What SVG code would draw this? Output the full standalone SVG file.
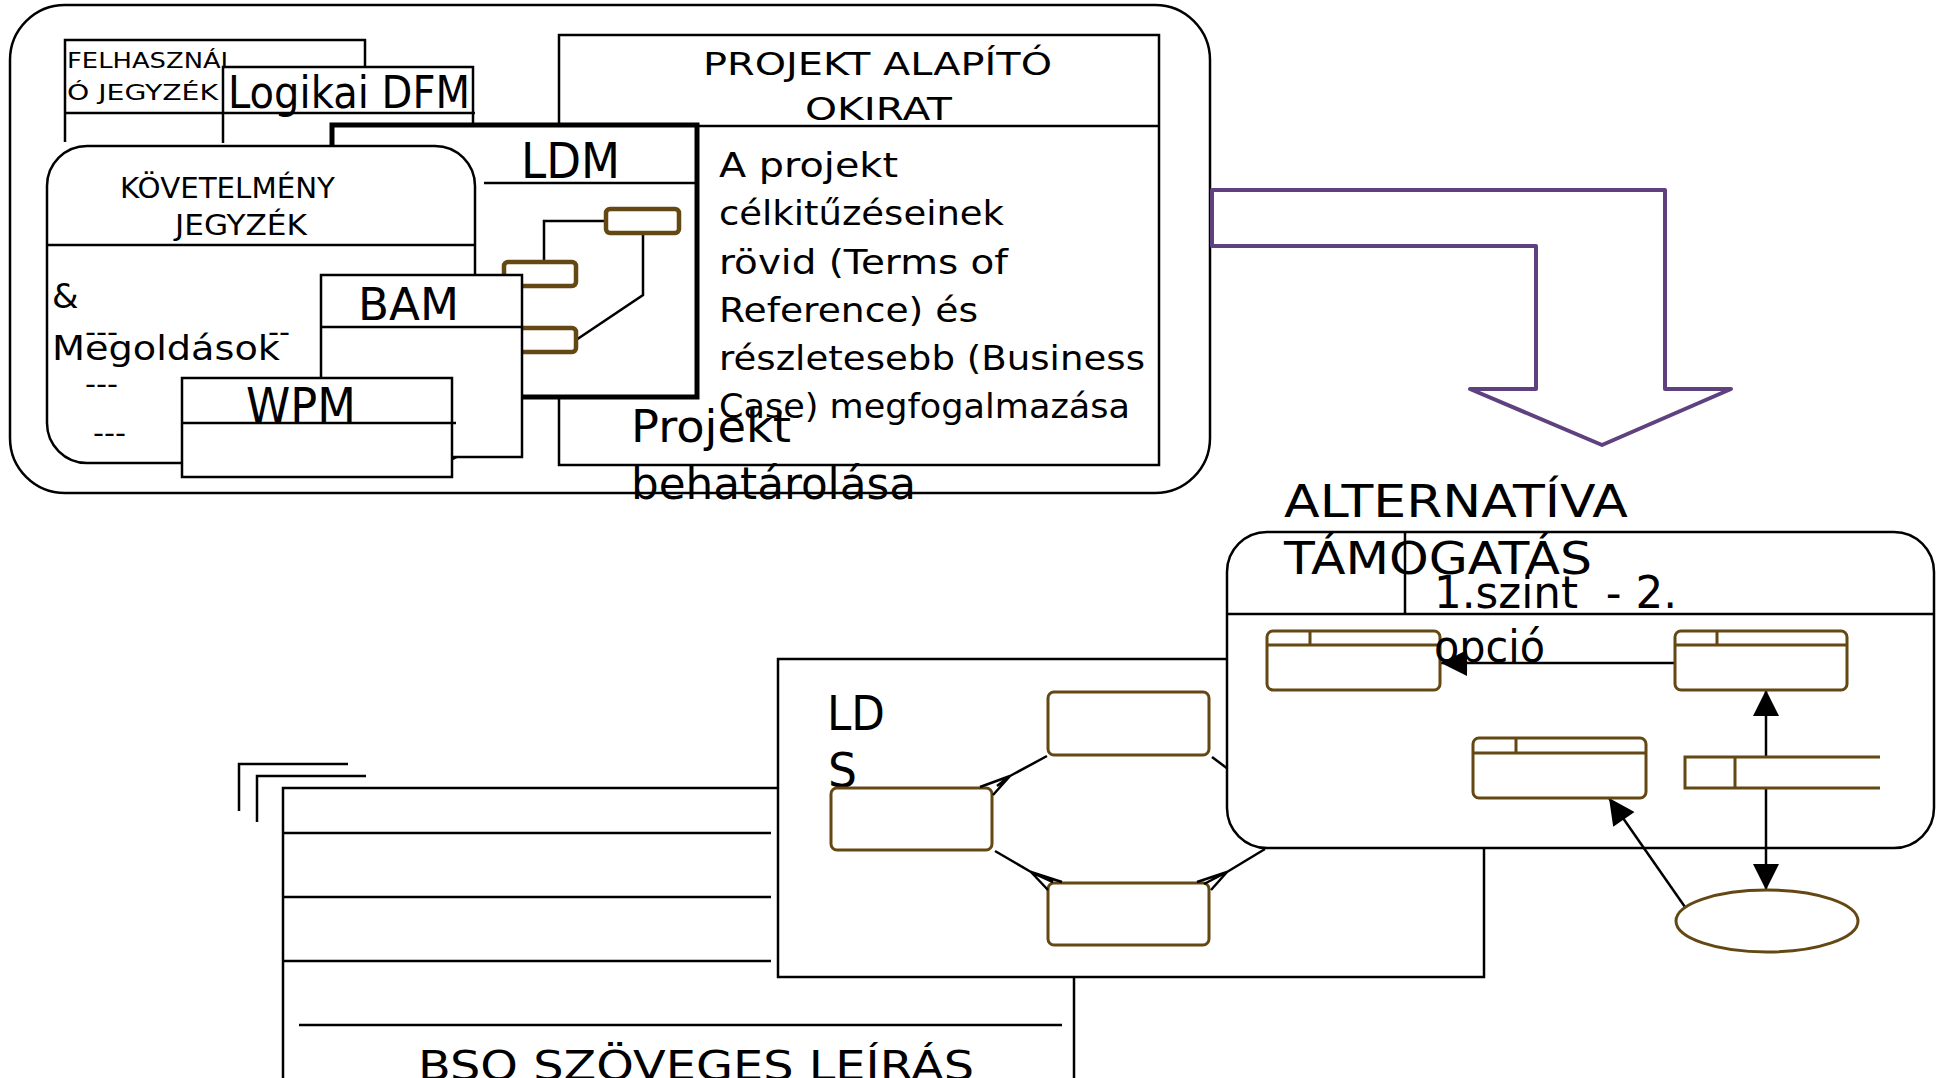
<svg xmlns="http://www.w3.org/2000/svg" width="1941" height="1078" viewBox="0 0 1941 1078">
<defs>
<style>
.ln{fill:none;stroke:#000;stroke-width:2.5}
.bx{fill:#fff;stroke:#000;stroke-width:2.5}
.thick{fill:#fff;stroke:#000;stroke-width:5}
.ent{fill:#fff;stroke:#634813;stroke-width:3}
.ent4{fill:#fff;stroke:#634813;stroke-width:4.5}
.entl{fill:none;stroke:#634813;stroke-width:3}
.t{font-family:"DejaVu Sans","Liberation Sans",sans-serif;fill:#000}
.arrowbig{fill:none;stroke:#5f4180;stroke-width:4;stroke-linejoin:round}
</style>
<marker id="ah" viewBox="0 0 10 10" refX="10" refY="5" markerWidth="30" markerHeight="26" markerUnits="userSpaceOnUse" orient="auto-start-reverse"><path d="M0,0 L10,5 L0,10 z" fill="#000"/></marker>
</defs>
<rect width="1941" height="1078" fill="#fff"/>

<g id="outer">
<rect x="10" y="5" width="1200" height="488" rx="55" class="bx"/>
</g>

<g id="felhasznalo">
<path class="ln" d="M65,142 V40 H365 V67 M65,113 H223"/>
</g>
<g id="logikai-dfm">
<path class="ln" d="M223,143 V67 H473 V123 M223,113 H475"/>
<text class="t" x="228" y="108" font-size="45" textLength="242" lengthAdjust="spacingAndGlyphs">Logikai DFM</text>
</g>
<g id="felhasznalo-text">
<text class="t" x="67" y="68" font-size="22" textLength="168" lengthAdjust="spacingAndGlyphs">FELHASZNÁL</text>
<text class="t" x="67" y="100" font-size="22" textLength="151" lengthAdjust="spacingAndGlyphs">Ó JEGYZÉK</text>
</g>

<g id="projekt-alapito">
<rect x="559" y="35" width="600" height="430" class="bx"/>
<path class="ln" d="M559,126 H1159"/>
<text class="t" x="703" y="75" font-size="32" textLength="349" lengthAdjust="spacingAndGlyphs">PROJEKT ALAPÍTÓ</text>
<text class="t" x="805" y="120" font-size="32" textLength="147" lengthAdjust="spacingAndGlyphs">OKIRAT</text>
<text class="t" x="719" y="177" font-size="34" textLength="179" lengthAdjust="spacingAndGlyphs">A projekt</text>
<text class="t" x="719" y="225" font-size="34" textLength="285" lengthAdjust="spacingAndGlyphs">célkitűzéseinek</text>
<text class="t" x="719" y="274" font-size="34" textLength="289" lengthAdjust="spacingAndGlyphs">rövid (Terms of</text>
<text class="t" x="719" y="322" font-size="34" textLength="259" lengthAdjust="spacingAndGlyphs">Reference) és</text>
<text class="t" x="719" y="370" font-size="34" textLength="426" lengthAdjust="spacingAndGlyphs">részletesebb (Business</text>
<text class="t" x="719" y="418" font-size="34" textLength="411" lengthAdjust="spacingAndGlyphs">Case) megfogalmazása</text>
</g>

<g id="ldm">
<rect x="332" y="125" width="365" height="272" class="thick"/>
<path class="ln" d="M484,183 H697"/>
<text class="t" x="521" y="178" font-size="50" textLength="99" lengthAdjust="spacingAndGlyphs">LDM</text>
<path class="ln" d="M606,221 H544 V262 M643,233 V295 L576,340"/>
<rect x="606" y="209" width="73" height="24" rx="4" class="ent4"/>
<rect x="504" y="262" width="72" height="24" rx="4" class="ent4"/>
<rect x="504" y="328" width="72" height="24" rx="4" class="ent4"/>
</g>

<g id="kovetelmeny">
<rect x="47" y="146" width="428" height="317" rx="40" class="bx"/>
<path class="ln" d="M47,245 H475"/>
<text class="t" x="120" y="198" font-size="29" textLength="215" lengthAdjust="spacingAndGlyphs">KÖVETELMÉNY</text>
<text class="t" x="175" y="235" font-size="29" textLength="132" lengthAdjust="spacingAndGlyphs">JEGYZÉK</text>
<text class="t" x="52" y="308" font-size="34">&amp;</text>
<text class="t" x="85" y="342" font-size="28" textLength="33" lengthAdjust="spacingAndGlyphs">---</text>
<text class="t" x="268" y="342" font-size="28" textLength="22" lengthAdjust="spacingAndGlyphs">--</text>
<text class="t" x="52" y="360" font-size="34" textLength="228" lengthAdjust="spacingAndGlyphs">Megoldások</text>
<text class="t" x="85" y="394" font-size="28" textLength="33" lengthAdjust="spacingAndGlyphs">---</text>
<text class="t" x="93" y="443" font-size="28" textLength="33" lengthAdjust="spacingAndGlyphs">---</text>
</g>

<g id="bam">
<rect x="321" y="275" width="201" height="182" class="bx"/>
<path class="ln" d="M321,327 H522"/>
<text class="t" x="358" y="320" font-size="45" textLength="101" lengthAdjust="spacingAndGlyphs">BAM</text>
</g>

<g id="wpm">
<rect x="182" y="378" width="270" height="99" class="bx"/>
<path class="ln" d="M182,423 H456"/>
<text class="t" x="246" y="423" font-size="49" textLength="110" lengthAdjust="spacingAndGlyphs">WPM</text>
</g>

<g id="projekt-behatarolasa">
<text class="t" x="631" y="442" font-size="44" textLength="160" lengthAdjust="spacingAndGlyphs">Projekt</text>
<text class="t" x="631" y="499" font-size="44" textLength="285" lengthAdjust="spacingAndGlyphs">behatárolása</text>
</g>

<g id="big-arrow">
<polygon class="arrowbig" points="1212,190 1665,190 1665,389 1731,389 1602,445 1470,389 1536,389 1536,246 1212,246"/>
</g>

<g id="bso">
<path class="ln" d="M283,1080 V788 H778 M1074,977 V1080 M283,833 H771 M283,897 H771 M283,961 H771 M299,1025 H1062 M239,811 V764 H348 M257,822 V776 H366"/>
<text class="t" x="418" y="1080" font-size="40" textLength="556" lengthAdjust="spacingAndGlyphs">BSO SZÖVEGES LEÍRÁS</text>
</g>

<g id="lds">
<rect x="778" y="659" width="706" height="318" class="bx"/>
<text class="t" x="827" y="730" font-size="48" textLength="58" lengthAdjust="spacingAndGlyphs">LD</text>
<text class="t" x="828" y="787" font-size="48" textLength="29" lengthAdjust="spacingAndGlyphs">S</text>
<rect x="1048" y="692" width="161" height="63" rx="6" class="ent"/>
<rect x="831" y="788" width="161" height="62" rx="6" class="ent"/>
<rect x="1048" y="883" width="161" height="62" rx="6" class="ent"/>
</g>

<g id="connectors">
<path class="ln" d="M1047,756 L1010,776 M980,787 L1010,776 L993,795 M1010,776 L997,786"/>
<path class="ln" d="M995,851 L1031,872 M1048,890 L1031,872 L1062,882 M1031,872 L1053,882"/>
<path class="ln" d="M1265,849 L1227,872 M1197,882 L1227,872 L1211,890 M1227,872 L1204,884"/>
<path class="ln" d="M1212,757 L1228,769"/>
</g>

<g id="alternativa">
<rect x="1227" y="532" width="707" height="316" rx="40" class="bx"/>
<path class="ln" d="M1227,614 H1934 M1405,532 V614"/>
<g id="alt-connectors">
<path class="ln" d="M1675,663 H1441" marker-end="url(#ah)"/>
<path class="ln" d="M1766,890 V690" marker-start="url(#ah)" marker-end="url(#ah)"/>
<path class="ln" d="M1685,907 L1609,798" marker-end="url(#ah)"/>
</g>
<g id="ent-a">
<rect x="1267" y="631" width="173" height="59" rx="6" class="ent"/>
<path class="entl" d="M1267,645 H1440 M1310,631 V645"/>
</g>
<g id="ent-b">
<rect x="1675" y="631" width="172" height="59" rx="6" class="ent"/>
<path class="entl" d="M1675,645 H1847 M1717,631 V645"/>
</g>
<g id="ent-c">
<rect x="1473" y="738" width="173" height="60" rx="6" class="ent"/>
<path class="entl" d="M1473,753 H1646 M1516,738 V753"/>
</g>
<g id="ent-d">
<rect x="1685" y="757" width="195" height="31" fill="#fff"/>
<path class="entl" d="M1880,757 H1685 V788 H1880 M1735,757 V788"/>
</g>
<g id="ent-e">
<ellipse cx="1767" cy="921" rx="91" ry="31" class="ent"/>
</g>
<text class="t" x="1284" y="517" font-size="44" textLength="344" lengthAdjust="spacingAndGlyphs">ALTERNATÍVA</text>
<text class="t" x="1284" y="574" font-size="44" textLength="308" lengthAdjust="spacingAndGlyphs">TÁMOGATÁS</text>
<text class="t" x="1434" y="608" font-size="45" textLength="243" lengthAdjust="spacingAndGlyphs" xml:space="preserve">1.szint  - 2.</text>
<text class="t" x="1434" y="662" font-size="45" textLength="111" lengthAdjust="spacingAndGlyphs">opció</text>
</g>
</svg>
